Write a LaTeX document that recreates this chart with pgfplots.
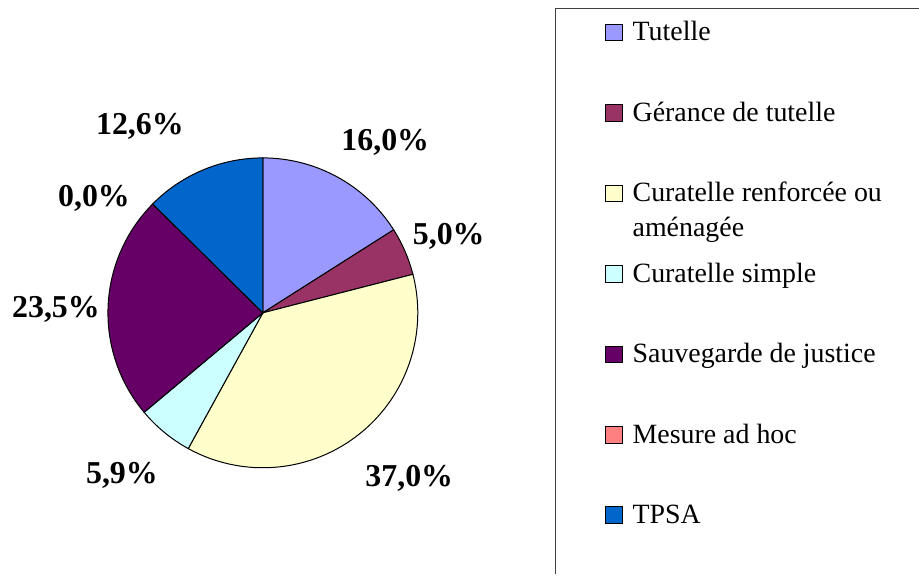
\documentclass[border=0pt]{standalone}
\usepackage{fontspec}
\setmainfont{Liberation Serif}
\usepackage{pgfplots}
\pgfplotsset{compat=1.18}
\definecolor{cTut}{HTML}{9999FF}
\definecolor{cGer}{HTML}{993366}
\definecolor{cCR}{HTML}{FFFFCC}
\definecolor{cCS}{HTML}{CCFFFF}
\definecolor{cSJ}{HTML}{660066}
\definecolor{cMA}{HTML}{FF8080}
\definecolor{cTP}{HTML}{0066CC}
\begin{document}
\begin{tikzpicture}
% shares (percent), clockwise from 12 o'clock
\def\vTut{16.0}\def\vGer{5.0}\def\vCR{37.0}\def\vCS{5.9}\def\vSJ{23.5}\def\vMA{0.0}\def\vTP{12.6}
\def\cx{263}\def\cy{261}\def\R{155}
\pgfmathsetmacro\aA{90}
\pgfmathsetmacro\aB{\aA-3.6*\vTut}
\pgfmathsetmacro\aC{\aB-3.6*\vGer}
\pgfmathsetmacro\aD{\aC-3.6*\vCR}
\pgfmathsetmacro\aE{\aD-3.6*\vCS}
\pgfmathsetmacro\aF{\aE-3.6*\vSJ}
\pgfmathsetmacro\aG{\aF-3.6*\vMA}
\pgfmathsetmacro\aH{\aG-3.6*\vTP}
\begin{axis}[
  scale only axis, width=919bp, height=574bp,
  xmin=0, xmax=919, ymin=0, ymax=574,
  hide axis, clip=false,
  legend image code/.code={\draw[#1] (0bp,20.5bp) rectangle (17bp,37bp);},
  legend style={at={(axis cs:605,553)}, anchor=north west, draw=none, fill=none,
    inner sep=0pt, outer sep=0pt, row sep=0pt, column sep=10bp,
    font=\fontsize{28}{35}\selectfont,
    nodes={inner sep=0pt, text height=20bp, text depth=60.5bp},
    cells={anchor=base west}},
  legend cell align=left,
]
\path (axis cs:0,0) rectangle (axis cs:919,574);
\addplot[fill=cTut, draw=black, line width=1bp, domain=\aB:\aA, samples=60, variable=\t]
  ({\cx+\R*cos(\t)},{\cy+\R*sin(\t)}) -- (axis cs:\cx,\cy) -- cycle;
\addlegendentry{Tutelle}
\addplot[fill=cGer, draw=black, line width=1bp, domain=\aC:\aB, samples=30, variable=\t]
  ({\cx+\R*cos(\t)},{\cy+\R*sin(\t)}) -- (axis cs:\cx,\cy) -- cycle;
\addlegendentry{Gérance de tutelle}
\addplot[fill=cCR, draw=black, line width=1bp, domain=\aD:\aC, samples=120, variable=\t]
  ({\cx+\R*cos(\t)},{\cy+\R*sin(\t)}) -- (axis cs:\cx,\cy) -- cycle;
\addlegendentry{\parbox[t]{9cm}{Curatelle renforcée ou\\aménagée}}
\addplot[fill=cCS, draw=black, line width=1bp, domain=\aE:\aD, samples=30, variable=\t]
  ({\cx+\R*cos(\t)},{\cy+\R*sin(\t)}) -- (axis cs:\cx,\cy) -- cycle;
\addlegendentry{Curatelle simple}
\addplot[fill=cSJ, draw=black, line width=1bp, domain=\aF:\aE, samples=80, variable=\t]
  ({\cx+\R*cos(\t)},{\cy+\R*sin(\t)}) -- (axis cs:\cx,\cy) -- cycle;
\addlegendentry{Sauvegarde de justice}
\addlegendimage{fill=cMA, draw=black, line width=1bp}
\addlegendentry{Mesure ad hoc}
\addplot[fill=cTP, draw=black, line width=1bp, domain=\aH:\aF, samples=50, variable=\t]
  ({\cx+\R*cos(\t)},{\cy+\R*sin(\t)}) -- (axis cs:\cx,\cy) -- cycle;
\addlegendentry{TPSA}
\draw[line width=1bp, black!75] (axis cs:556,0) -- (axis cs:556,565) -- (axis cs:919,565);
\begin{scope}[every node/.style={anchor=base, inner sep=0pt, font=\fontsize{32}{38}\selectfont\bfseries}]
\node at (axis cs:385.5,423) {16,0\%};
\node at (axis cs:449,329) {5,0\%};
\node at (axis cs:409.5,87) {37,0\%};
\node at (axis cs:122,90) {5,9\%};
\node at (axis cs:56,256) {23,5\%};
\node at (axis cs:94,367) {0,0\%};
\node at (axis cs:140,439) {12,6\%};
\end{scope}
\end{axis}
\end{tikzpicture}
\end{document}
